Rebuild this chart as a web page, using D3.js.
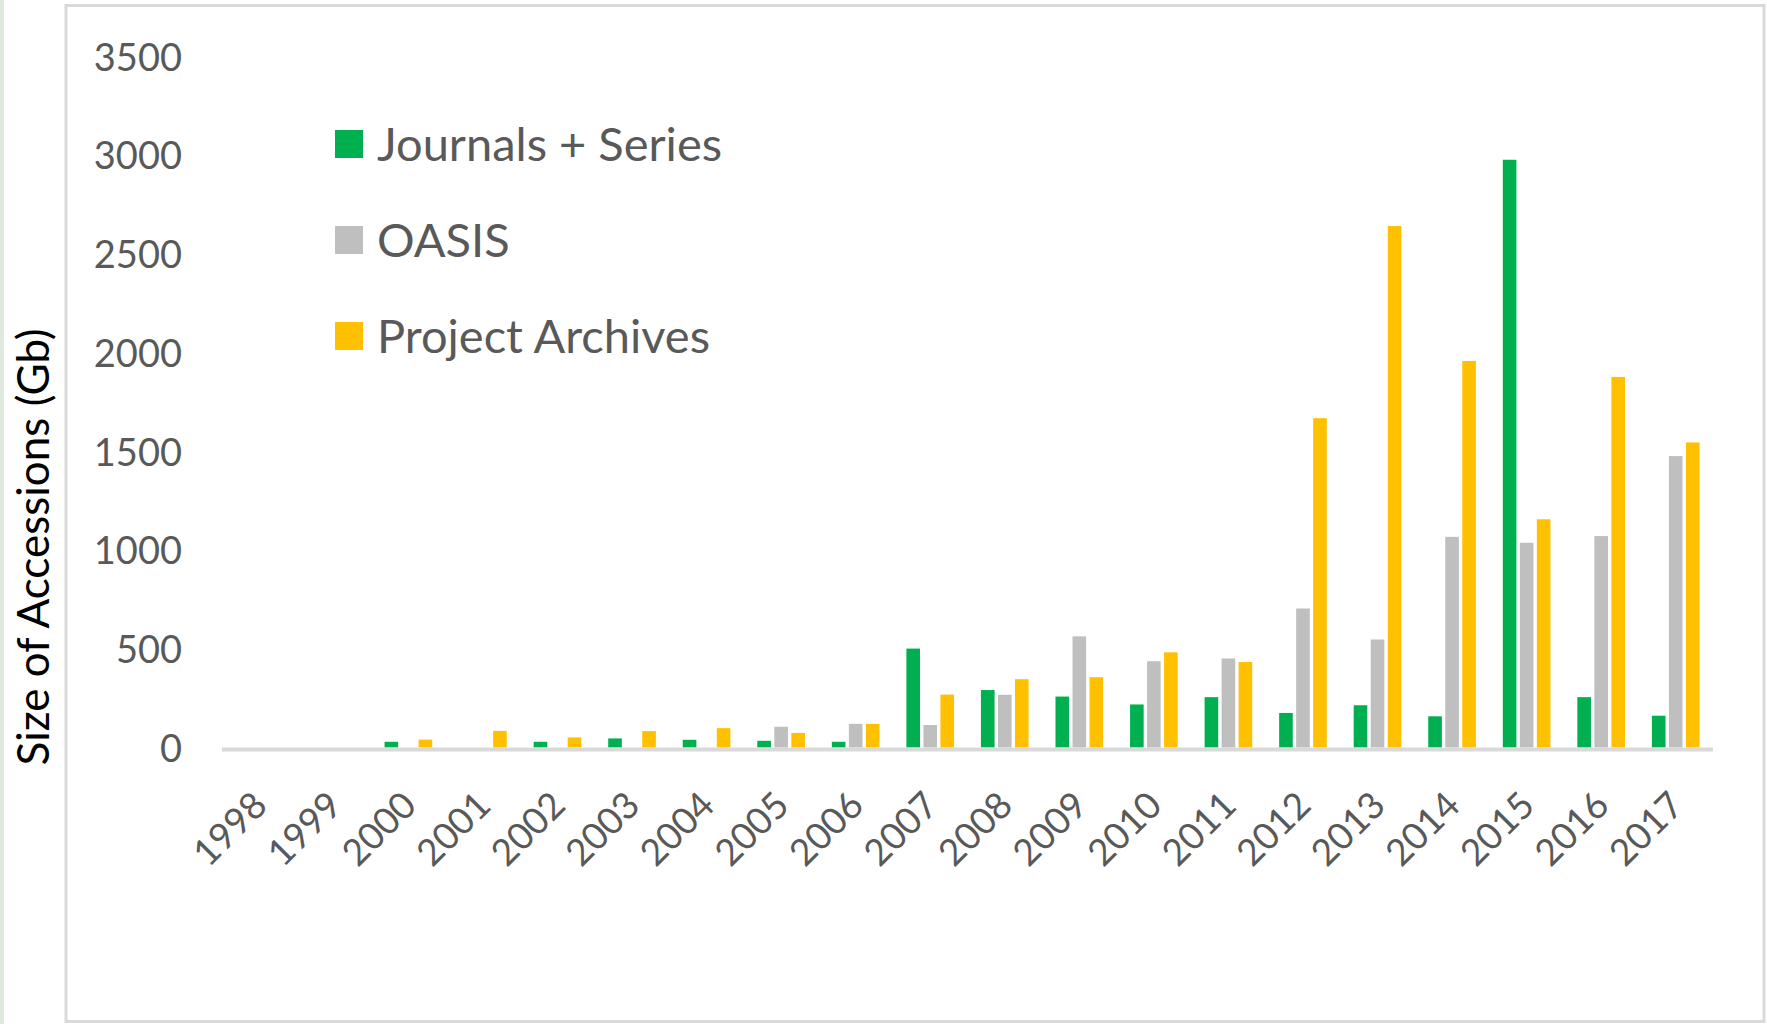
<!DOCTYPE html>
<html><head><meta charset="utf-8">
<script src="https://cdn.jsdelivr.net/npm/d3@7"></script>
<style>html,body{margin:0;padding:0;background:#fff;}svg{display:block;}</style>
</head><body>
<script>
const years = ["1998","1999","2000","2001","2002","2003","2004","2005","2006","2007","2008","2009","2010","2011","2012","2013","2014","2015","2016","2017"];
const seriesNames = ["Journals + Series","OASIS","Project Archives"];
const journals = [0,0,29,0,29,46,39,34,29,501,291,258,218,255,175,214,158,2977,255,161];
const oasis    = [0,0,0,0,0,0,0,105,120,114,267,563,437,451,704,547,1067,1037,1071,1476];
const project  = [0,0,40,84,51,83,98,74,120,268,346,356,482,433,1668,2641,1958,1156,1877,1545];
const yTicks = [0,500,1000,1500,2000,2500,3000,3500];
const colors = ["#00b050","#bfbfbf","#ffc000"];

const W = 1767, H = 1024;
const svg = d3.select("body").append("svg").attr("width", W).attr("height", H);

// page strip and chart border
svg.append("rect").attr("x",0).attr("y",0).attr("width",4).attr("height",H).attr("fill","#e0e9de");
svg.append("rect").attr("x",66).attr("y",5.5).attr("width",1698).attr("height",1016)
  .attr("fill","#fff").attr("stroke","#d9d9d9").attr("stroke-width",3);

const x0 = d3.scaleBand().domain(years).range([222,1713]).padding(0);
const x1 = d3.scaleBand().domain(seriesNames).range([0,x0.bandwidth()]).paddingInner(0.2).paddingOuter(0.79);
const y = d3.scaleLinear().domain([0,3500]).range([747.5,56.5]);

const data = years.map((yr,i)=>({year:yr, vals:[journals[i],oasis[i],project[i]]}));

const g = svg.append("g");
g.selectAll("g.grp").data(data).join("g").attr("class","grp")
  .attr("transform", d=>`translate(${x0(d.year)},0)`)
  .selectAll("rect").data(d=>d.vals.map((v,k)=>({k,v}))).join("rect")
  .attr("x", d=>x1(seriesNames[d.k]))
  .attr("width", x1.bandwidth())
  .attr("y", d=>y(d.v))
  .attr("height", d=>y(0)-y(d.v))
  .attr("fill", d=>colors[d.k]);

// x axis line
svg.append("line").attr("x1",222).attr("x2",1713).attr("y1",y(0)+2).attr("y2",y(0)+2)
  .attr("stroke","#d9d9d9").attr("stroke-width",4);

// y axis labels
const yAxis = d3.axisLeft(y).tickValues(yTicks).tickFormat(d3.format("d")).tickSize(0).tickPadding(0);
const ya = svg.append("g").attr("transform","translate(182,0)").call(yAxis);
ya.select(".domain").remove();
ya.selectAll("text").attr("font-family","Lato").attr("font-size",38).attr("fill","#595959").attr("dy","0.36em");

// x axis labels
const xAxis = d3.axisBottom(x0).tickSize(0).tickPadding(0);
const xa = svg.append("g").attr("transform",`translate(0,${y(0)})`).call(xAxis);
xa.select(".domain").remove();
xa.selectAll("text").attr("font-family","Lato").attr("font-size",37).attr("fill","#595959")
  .attr("text-anchor","end").attr("dy",null).attr("y",null)
  .attr("transform","translate(10,60) rotate(-45)");

// y title
svg.append("text").attr("transform","translate(49,547) rotate(-90)")
  .attr("text-anchor","middle").attr("font-family","Lato").attr("font-size",44).attr("fill","#000")
  .text("Size of Accessions (Gb)");

// legend
const leg = svg.append("g").selectAll("g").data(seriesNames).join("g")
  .attr("transform",(d,i)=>`translate(335,${144+i*96})`);
leg.append("rect").attr("x",0).attr("y",-14).attr("width",28).attr("height",28).attr("fill",(d,i)=>colors[i]);
leg.append("text").attr("x",42).attr("y",0).attr("dy","0.36em").attr("font-family","Lato").attr("font-size",47)
  .attr("fill","#595959").text(d=>d);
</script>
</body></html>
